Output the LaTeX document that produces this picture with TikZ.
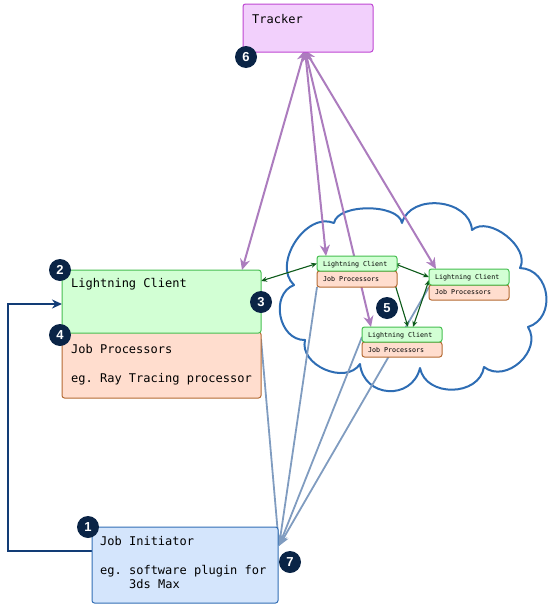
\documentclass[tikz,border=0pt]{standalone}
\usepackage{fontspec}
\setmonofont{DejaVu Sans Mono}
\newfontfamily\badgefont{Liberation Sans}
\usetikzlibrary{arrows.meta,calc}
\pgfdeclarelayer{bg}
\pgfsetlayers{bg,main}
\definecolor{trkfill}{RGB}{242,208,252}
\definecolor{trkline}{RGB}{190,70,210}
\definecolor{grnfill}{RGB}{210,255,212}
\definecolor{grnline}{RGB}{70,190,80}
\definecolor{orgfill}{RGB}{255,221,206}
\definecolor{orgline}{RGB}{180,105,50}
\definecolor{blufill}{RGB}{212,229,252}
\definecolor{bluline}{RGB}{50,110,180}
\definecolor{navy}{RGB}{10,36,70}
\definecolor{purp}{RGB}{172,124,190}
\definecolor{grayblue}{RGB}{128,156,192}
\definecolor{dkgreen}{RGB}{12,90,25}
\definecolor{navyline}{RGB}{18,60,118}
\definecolor{cloudc}{RGB}{46,109,180}
\begin{document}
\begin{tikzpicture}[x=1pt,y=-1pt,
  box/.style={rectangle, rounded corners=2.5pt, line width=1pt, inner sep=0pt, outer sep=0pt, anchor=north west},
  trackerbox/.style={box, fill=trkfill, draw=trkline},
  greenbox/.style={box, fill=grnfill, draw=grnline},
  orangebox/.style={box, fill=orgfill, draw=orgline},
  bluebox/.style={box, fill=blufill, draw=bluline},
  bigtext/.style={anchor=base west, inner sep=0pt, font=\ttfamily\fontsize{12}{14}\selectfont},
  smalltext/.style={anchor=base west, inner sep=0pt, font=\ttfamily\fontsize{6.65}{8}\selectfont},
  badge/.style={circle, fill=navy, text=white, minimum size=22pt, inner sep=0pt, font=\badgefont\bfseries\fontsize{13}{13}\selectfont},
  purpleline/.style={draw=purp, line width=2pt, {Stealth[length=11pt,width=10pt]}-{Stealth[length=11pt,width=10pt]}},
  grayline/.style={draw=grayblue, line width=1.8pt, -{Stealth[length=11pt,width=9pt]}},
  greenline/.style={draw=dkgreen, line width=1.1pt, {Stealth[length=6pt,width=5pt]}-{Stealth[length=6pt,width=5pt]}},
  bluecon/.style={draw=navyline, line width=2pt, -{Stealth[length=10pt,width=9pt]}},
  cloudline/.style={draw=cloudc, line width=2pt, line join=round}
]
\useasboundingbox (0,0) rectangle (552,608);

% Tracker
\node[trackerbox, minimum width=130pt, minimum height=48pt] (tracker) at (243,4) {};
\node[bigtext] (trackert) at (252,23) {Tracker};

% Big lightning client
\node[orangebox, minimum width=199pt, minimum height=66pt] (bigo) at (62,332) {};
\node[greenbox, minimum width=199pt, minimum height=63pt] (bigg) at (62,270) {};
\node[bigtext] (bigt1) at (71,287) {Lightning Client};
\node[bigtext] (bigt2) at (71,353) {Job Processors};
\node[bigtext] (bigt3) at (71,382) {eg. Ray Tracing processor};

% Job initiator
\node[bluebox, minimum width=186pt, minimum height=76pt] (init) at (92,527) {};
\node[bigtext] (it1) at (100,545) {Job Initiator};
\node[bigtext] (it2) at (100,574) {eg. software plugin for};
\node[bigtext] (it3) at (129,588) {3ds Max};

% Small client A
\node[orangebox, minimum width=80pt, minimum height=16pt] (Ao) at (317,271) {};
\node[greenbox, minimum width=80pt, minimum height=15pt] (Ag) at (317,256) {};
\node[smalltext] (At1) at (323,266.5) {Lightning Client};
\node[smalltext] (At2) at (323,281.5) {Job Processors};

% Small client B
\node[orangebox, minimum width=80pt, minimum height=15pt] (Bo) at (429,285) {};
\node[greenbox, minimum width=80pt, minimum height=16pt] (Bg) at (429,269) {};
\node[smalltext] (Bt1) at (435,279.5) {Lightning Client};
\node[smalltext] (Bt2) at (435,294.5) {Job Processors};

% Small client C
\node[orangebox, minimum width=80pt, minimum height=15pt] (Co) at (362,342) {};
\node[greenbox, minimum width=80pt, minimum height=15pt] (Cg) at (362,327) {};
\node[smalltext] (Ct1) at (368,337.5) {Lightning Client};
\node[smalltext] (Ct2) at (368,352.5) {Job Processors};

% Badges
\node[badge] (b1) at (88,527) {1};
\node[badge] (b2) at (60,270) {2};
\node[badge] (b3) at (261,302) {3};
\node[badge] (b4) at (60,335) {4};
\node[badge] (b5) at (387,308) {5};
\node[badge] (b6) at (246,57) {6};
\node[badge] (b7) at (290,562) {7};

\begin{pgfonlayer}{bg}
% Cloud
\draw[cloudline] (334,223)
  to[bend left=80, looseness=0.75] (402,223)
  to[bend left=80, looseness=1.14] (472,230)
  to[bend left=80, looseness=0.95] (520,268)
  to[bend left=80, looseness=1.3] (528,327)
  to[bend left=80, looseness=1.2] (484,367)
  to[bend left=80, looseness=1.2] (420,368)
  to[bend left=80, looseness=1.45] (360,364)
  to[bend left=80, looseness=1.1] (305,340)
  to[bend left=80, looseness=1.2] (294,285)
  to[bend left=80, looseness=1.05] (334,223) -- cycle;

% Tracker connections
\coordinate (tp) at ([xshift=-3pt,yshift=2pt]tracker.south);
\draw[purpleline] (tp) -- ([xshift=-19pt]bigg.north east);
\draw[purpleline] (tp) -- ([xshift=9pt]Ag.north west);
\draw[purpleline] (tp) -- ([xshift=9pt]Cg.north west);
\draw[purpleline] (tp) -- ([xshift=7pt]Bg.north west);

% Results to job initiator
\coordinate (jt) at ([xshift=1pt,yshift=-19pt]init.north east);
\draw[grayline] ([yshift=-7pt]bigo.north east) -- (jt);
\draw[grayline] (Ao.south west) -- (jt);
\draw[grayline] ([yshift=-10pt]Cg.north west) -- (jt);
\draw[grayline] ([yshift=-2pt]Bg.south west) -- (jt);

% Peer connections
\draw[greenline] ([yshift=-11pt]bigg.north east) -- (Ag.west);
\draw[greenline] ([xshift=-3pt]Ag.east) -- (Bg.west);
\draw[greenline] ([xshift=-7pt,yshift=3pt]Ag.south east) -- ([xshift=46pt]Cg.north west);
\draw[greenline] ([yshift=-3pt]Bg.west) -- ([xshift=51pt]Cg.north west);

% Job initiator to client
\draw[bluecon] ([yshift=-24pt]init.north west) -- ++(-84,0) |- ([yshift=-34pt]bigg.north west);
\end{pgfonlayer}
\end{tikzpicture}
\end{document}
